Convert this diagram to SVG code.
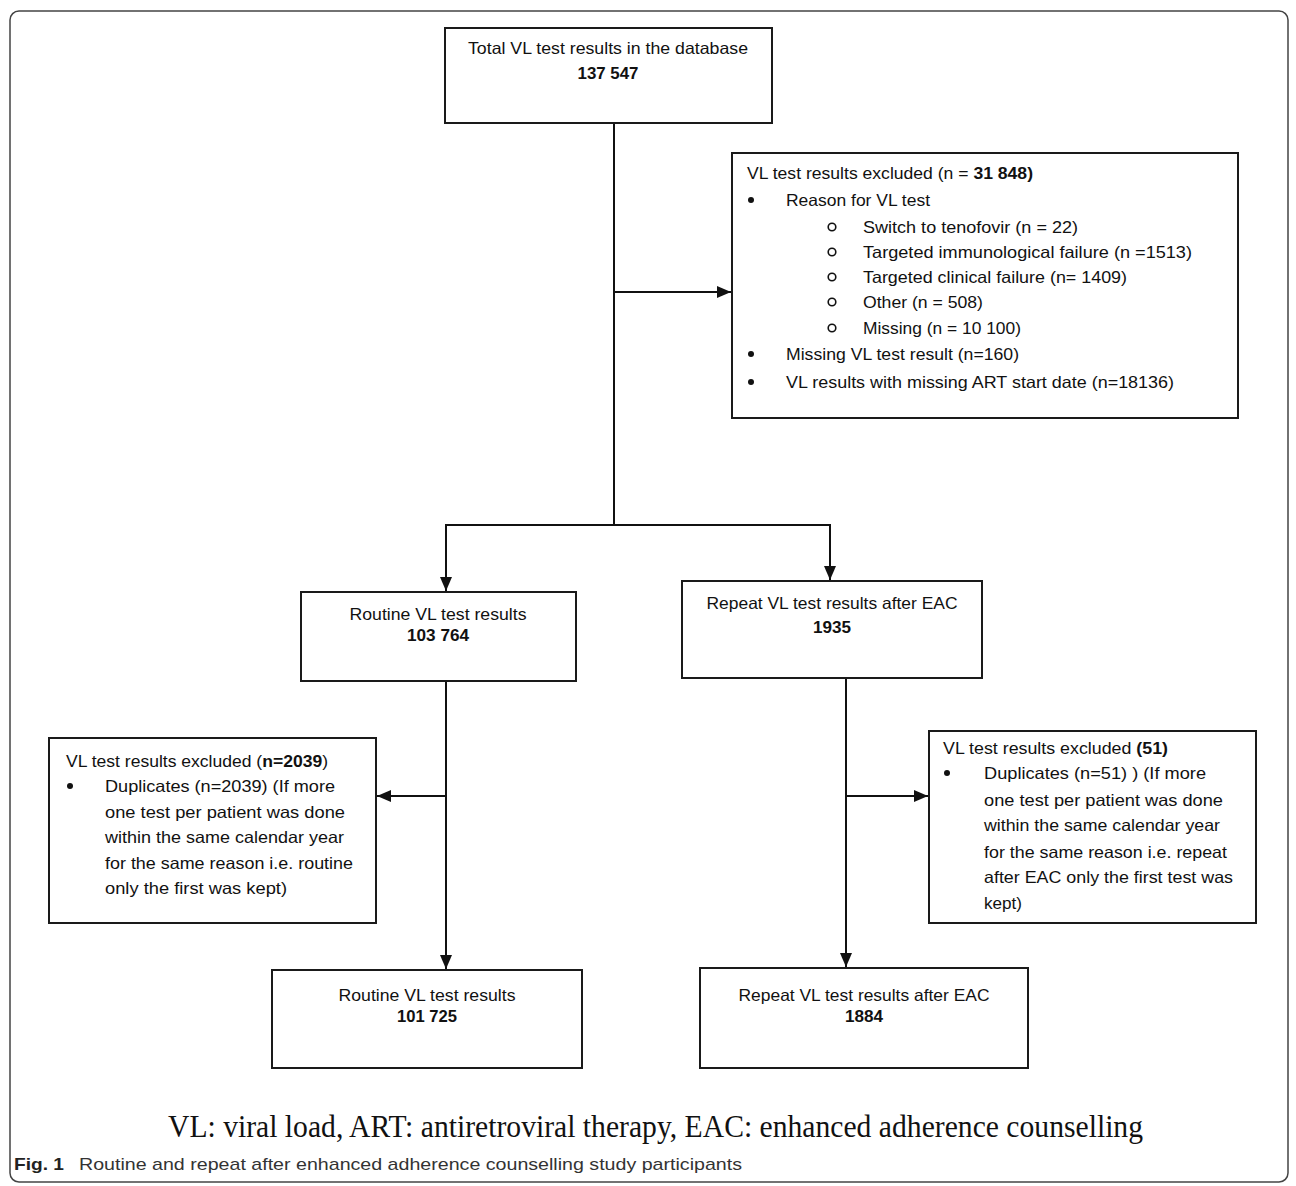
<svg xmlns="http://www.w3.org/2000/svg" width="1296" height="1186" viewBox="0 0 1296 1186">
<style>
.box{fill:#fff;stroke:#1a1a1a;stroke-width:2}
.t{font-family:"Liberation Sans",Arial,sans-serif;font-size:16.5px;fill:#111}
.c{text-anchor:middle}
.b{font-weight:bold}
.ln{fill:none;stroke:#111;stroke-width:2}
.dot{fill:#111}
.ring{fill:none;stroke:#111;stroke-width:1.6}
</style>
<defs>
<marker id="ah" markerUnits="userSpaceOnUse" markerWidth="16" markerHeight="16" viewBox="0 0 16 16" refX="14" refY="8" orient="auto">
<path d="M0,2 L14,8 L0,14 Z" fill="#111"/>
</marker>
</defs>
<rect x="0" y="0" width="1296" height="1186" fill="#fff"/>
<rect x="10" y="11" width="1278" height="1171" rx="9" fill="none" stroke="#444" stroke-width="1.5"/>

<g id="connectors">
<line class="ln" x1="614" y1="123" x2="614" y2="525"/>
<line class="ln" x1="614" y1="292" x2="731" y2="292" marker-end="url(#ah)"/>
<line class="ln" x1="445" y1="525" x2="831" y2="525"/>
<line class="ln" x1="446" y1="525" x2="446" y2="591" marker-end="url(#ah)"/>
<line class="ln" x1="830" y1="525" x2="830" y2="580" marker-end="url(#ah)"/>
<line class="ln" x1="446" y1="681" x2="446" y2="969" marker-end="url(#ah)"/>
<line class="ln" x1="446" y1="796" x2="377" y2="796" marker-end="url(#ah)"/>
<line class="ln" x1="846" y1="678" x2="846" y2="967" marker-end="url(#ah)"/>
<line class="ln" x1="846" y1="796" x2="928" y2="796" marker-end="url(#ah)"/>
</g>

<g id="total">
<rect class="box" x="445" y="28" width="327" height="95"/>
<text class="t c" x="608" y="54" textLength="280" lengthAdjust="spacingAndGlyphs">Total VL test results in the database</text>
<text class="t c b" x="608" y="79" textLength="61" lengthAdjust="spacingAndGlyphs">137 547</text>
</g>

<g id="excluded1">
<rect class="box" x="732" y="153" width="506" height="265"/>
<text class="t" x="747" y="179" textLength="286" lengthAdjust="spacingAndGlyphs">VL test results excluded (n = <tspan class="b">31 848)</tspan></text>
<circle class="dot" cx="751" cy="200" r="3"/>
<text class="t" x="786" y="206" textLength="144" lengthAdjust="spacingAndGlyphs">Reason for VL test</text>
<circle class="ring" cx="832" cy="227" r="3.8"/>
<text class="t" x="863" y="233" textLength="215" lengthAdjust="spacingAndGlyphs">Switch to tenofovir (n = 22)</text>
<circle class="ring" cx="832" cy="252" r="3.8"/>
<text class="t" x="863" y="258" textLength="329" lengthAdjust="spacingAndGlyphs">Targeted immunological failure (n =1513)</text>
<circle class="ring" cx="832" cy="277" r="3.8"/>
<text class="t" x="863" y="283" textLength="264" lengthAdjust="spacingAndGlyphs">Targeted clinical failure (n= 1409)</text>
<circle class="ring" cx="832" cy="302" r="3.8"/>
<text class="t" x="863" y="308" textLength="120" lengthAdjust="spacingAndGlyphs">Other (n = 508)</text>
<circle class="ring" cx="832" cy="328" r="3.8"/>
<text class="t" x="863" y="334" textLength="158" lengthAdjust="spacingAndGlyphs">Missing (n = 10 100)</text>
<circle class="dot" cx="751" cy="354" r="3"/>
<text class="t" x="786" y="360" textLength="233" lengthAdjust="spacingAndGlyphs">Missing VL test result (n=160)</text>
<circle class="dot" cx="751" cy="382" r="3"/>
<text class="t" x="786" y="388" textLength="388" lengthAdjust="spacingAndGlyphs">VL results with  missing ART start date (n=18136)</text>
</g>

<g id="routine1">
<rect class="box" x="301" y="592" width="275" height="89"/>
<text class="t c" x="438" y="620" textLength="177" lengthAdjust="spacingAndGlyphs">Routine VL test results</text>
<text class="t c b" x="438" y="641" textLength="62" lengthAdjust="spacingAndGlyphs">103 764</text>
</g>

<g id="repeat1">
<rect class="box" x="682" y="581" width="300" height="97"/>
<text class="t c" x="832" y="609" textLength="251" lengthAdjust="spacingAndGlyphs">Repeat VL test results after EAC</text>
<text class="t c b" x="832" y="633" textLength="38" lengthAdjust="spacingAndGlyphs">1935</text>
</g>

<g id="excluded2">
<rect class="box" x="49" y="738" width="327" height="185"/>
<text class="t" x="66" y="767" textLength="262" lengthAdjust="spacingAndGlyphs">VL test results excluded (<tspan class="b">n=2039</tspan>)</text>
<circle class="dot" cx="70" cy="786" r="3"/>
<text class="t" x="105" y="792" textLength="230" lengthAdjust="spacingAndGlyphs">Duplicates (n=2039) (If  more</text>
<text class="t" x="105" y="818" textLength="240" lengthAdjust="spacingAndGlyphs">one test per patient  was done</text>
<text class="t" x="105" y="843" textLength="239" lengthAdjust="spacingAndGlyphs">within the same calendar year</text>
<text class="t" x="105" y="869" textLength="248" lengthAdjust="spacingAndGlyphs">for the same reason i.e. routine</text>
<text class="t" x="105" y="894" textLength="182" lengthAdjust="spacingAndGlyphs">only the first was kept)</text>
</g>

<g id="excluded3">
<rect class="box" x="929" y="731" width="327" height="192"/>
<text class="t" x="943" y="754" textLength="225" lengthAdjust="spacingAndGlyphs">VL test results excluded <tspan class="b">(51)</tspan></text>
<circle class="dot" cx="947" cy="773" r="3"/>
<text class="t" x="984" y="779" textLength="222" lengthAdjust="spacingAndGlyphs">Duplicates (n=51) ) (If  more</text>
<text class="t" x="984" y="806" textLength="239" lengthAdjust="spacingAndGlyphs">one test per patient  was done</text>
<text class="t" x="984" y="831" textLength="236" lengthAdjust="spacingAndGlyphs">within the same calendar year</text>
<text class="t" x="984" y="858" textLength="243" lengthAdjust="spacingAndGlyphs">for the same reason i.e. repeat</text>
<text class="t" x="984" y="883" textLength="249" lengthAdjust="spacingAndGlyphs">after EAC only the first test was</text>
<text class="t" x="984" y="909" textLength="38" lengthAdjust="spacingAndGlyphs">kept)</text>
</g>

<g id="routine2">
<rect class="box" x="272" y="970" width="310" height="98"/>
<text class="t c" x="427" y="1001" textLength="177" lengthAdjust="spacingAndGlyphs">Routine VL test results</text>
<text class="t c b" x="427" y="1022" textLength="60" lengthAdjust="spacingAndGlyphs">101 725</text>
</g>

<g id="repeat2">
<rect class="box" x="700" y="968" width="328" height="100"/>
<text class="t c" x="864" y="1001" textLength="251" lengthAdjust="spacingAndGlyphs">Repeat VL test results after EAC</text>
<text class="t c b" x="864" y="1022" textLength="38" lengthAdjust="spacingAndGlyphs">1884</text>
</g>

<text x="168" y="1137" font-family="'Liberation Serif','Times New Roman',serif" font-size="32" fill="#111" textLength="975" lengthAdjust="spacingAndGlyphs">VL: viral load, ART: antiretroviral therapy, EAC: enhanced adherence counselling</text>
<text x="14" y="1170" font-family="'Liberation Sans',Arial,sans-serif" font-size="17" font-weight="bold" fill="#222" textLength="50" lengthAdjust="spacingAndGlyphs">Fig. 1</text>
<text x="79" y="1170" font-family="'Liberation Sans',Arial,sans-serif" font-size="17" fill="#333" textLength="663" lengthAdjust="spacingAndGlyphs">Routine and repeat after enhanced adherence counselling study participants</text>
</svg>
